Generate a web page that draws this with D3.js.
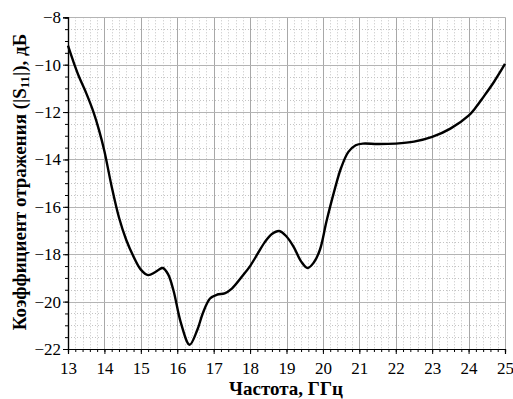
<!DOCTYPE html>
<html>
<head>
<meta charset="utf-8">
<script src="https://cdn.jsdelivr.net/npm/d3@7"></script>
<style>
  html, body { margin: 0; padding: 0; background: #fff; }
  svg { display: block; }
  text { font-family: "Liberation Serif", "Times New Roman", serif; }
</style>
</head>
<body>
<svg id="chart" width="513" height="399"></svg>
<script>
// Frequency points (GHz) and reflection coefficient |S11| (dB)
const freq = [13.0, 13.15, 13.3, 13.5, 13.7, 13.85, 14.0, 14.2, 14.4, 14.6, 14.8,
              15.0, 15.2, 15.4, 15.6, 15.75, 15.9, 16.1, 16.34, 16.55, 16.7,
              16.9, 17.1, 17.3, 17.5, 17.8, 18.0, 18.2, 18.4, 18.6, 18.8,
              19.0, 19.2, 19.4, 19.58, 19.75, 19.92, 20.1, 20.3, 20.5, 20.7,
              20.9, 21.1, 21.5, 22.0, 22.5, 23.0, 23.5, 24.0, 24.2, 24.4, 24.7, 25.0];
const s11 = [-9.2, -9.88, -10.5, -11.2, -12.0, -12.75, -13.65, -15.15, -16.45, -17.4, -18.1,
             -18.65, -18.88, -18.75, -18.58, -18.85, -19.55, -20.9, -21.82, -21.2, -20.5,
             -19.87, -19.7, -19.65, -19.45, -18.9, -18.5, -18.0, -17.5, -17.15, -17.02,
             -17.25, -17.7, -18.3, -18.58, -18.35, -17.8, -16.6, -15.4, -14.35, -13.68,
             -13.4, -13.33, -13.35, -13.33, -13.25, -13.05, -12.7, -12.15, -11.8, -11.38, -10.72, -9.97];

const xTicks = [13, 14, 15, 16, 17, 18, 19, 20, 21, 22, 23, 24, 25];
const yTicks = [-22, -20, -18, -16, -14, -12, -10, -8];
const xLabel = "Частота, ГГц";
const yLabel = ["Коэффициент отражения (|S", "11", "|), дБ"];

const svg = d3.select("#chart");
const m = { left: 68, right: 505, top: 17.3, bottom: 349 };

const x = d3.scaleLinear().domain([13, 25]).range([m.left, m.right]);
const y = d3.scaleLinear().domain([-22, -8]).range([m.bottom, m.top]);

const xMinor = d3.range(13, 25.0001, 0.2).map(v => +v.toFixed(1));
const yMinor = d3.range(-22, -7.999, 0.5).map(v => +v.toFixed(1));

const grid = svg.append("g");
// minor dotted grid
grid.selectAll(".vminor").data(xMinor.filter(v => !xTicks.includes(v)))
  .join("line")
  .attr("x1", d => Math.round(x(d)) + 0.5).attr("x2", d => Math.round(x(d)) + 0.5)
  .attr("y1", m.top).attr("y2", m.bottom)
  .attr("stroke", "#c4c4c4").attr("stroke-width", 1).attr("stroke-dasharray", "1,2");
grid.selectAll(".hminor").data(yMinor.filter(v => !yTicks.includes(v)))
  .join("line")
  .attr("x1", m.left).attr("x2", m.right)
  .attr("y1", d => Math.round(y(d)) + 0.5).attr("y2", d => Math.round(y(d)) + 0.5)
  .attr("stroke", "#c4c4c4").attr("stroke-width", 1).attr("stroke-dasharray", "1,2");
// major solid grid
grid.selectAll(".vmajor").data(xTicks.slice(1))
  .join("line")
  .attr("x1", d => Math.round(x(d)) + 0.5).attr("x2", d => Math.round(x(d)) + 0.5)
  .attr("y1", m.top).attr("y2", m.bottom)
  .attr("stroke", "#a8a8a8").attr("stroke-width", 1);
grid.selectAll(".hmajor").data(yTicks.slice(1))
  .join("line")
  .attr("x1", m.left).attr("x2", m.right)
  .attr("y1", d => Math.round(y(d)) + 0.5).attr("y2", d => Math.round(y(d)) + 0.5)
  .attr("stroke", "#b4b4b4").attr("stroke-width", 1);

// axes
const xAxisMinor = d3.axisBottom(x).tickValues(xMinor).tickSize(3).tickFormat("");
const xAxis = d3.axisBottom(x).tickValues(xTicks).tickSize(5).tickPadding(8)
  .tickFormat(d => d3.format("d")(d));
const yAxisMinor = d3.axisLeft(y).tickValues(yMinor).tickSize(3).tickFormat("");
const yAxis = d3.axisLeft(y).tickValues(yTicks).tickSize(5).tickPadding(2)
  .tickFormat(d => "\u2212" + Math.abs(d));

function styleAxis(g) {
  g.selectAll("path").attr("stroke", "#000").attr("stroke-width", 1.2);
  g.selectAll("line").attr("stroke", "#000").attr("stroke-width", 1);
  g.selectAll("text").attr("font-family", "'Liberation Serif', serif")
    .attr("font-size", 17).attr("fill", "#000");
}
svg.append("g").attr("transform", `translate(0,${m.bottom})`).call(xAxisMinor).call(styleAxis);
svg.append("g").attr("transform", `translate(0,${m.bottom})`).call(xAxis).call(styleAxis);
svg.append("g").attr("transform", `translate(${m.left},0)`).call(yAxisMinor).call(styleAxis);
svg.append("g").attr("transform", `translate(${m.left},0)`).call(yAxis).call(styleAxis);

// curve
const line = d3.line()
  .x((d, i) => x(freq[i]))
  .y(d => y(d))
  .curve(d3.curveCatmullRom.alpha(0.5));
svg.append("path")
  .datum(s11)
  .attr("d", line)
  .attr("fill", "none")
  .attr("stroke", "#000")
  .attr("stroke-width", 2.4)
  .attr("stroke-linejoin", "round");

// axis titles
svg.append("text")
  .attr("x", 286).attr("y", 395)
  .attr("text-anchor", "middle")
  .attr("font-size", 19).attr("font-weight", "bold")
  .text(xLabel);

const yt = svg.append("text")
  .attr("transform", "translate(26,182) rotate(-90)")
  .attr("text-anchor", "middle")
  .attr("font-size", 19).attr("font-weight", "bold");
yt.append("tspan").text(yLabel[0]);
yt.append("tspan").attr("font-size", 13).attr("dy", 3).text(yLabel[1]);
yt.append("tspan").attr("dy", -3).text(yLabel[2]);
</script>
</body>
</html>
